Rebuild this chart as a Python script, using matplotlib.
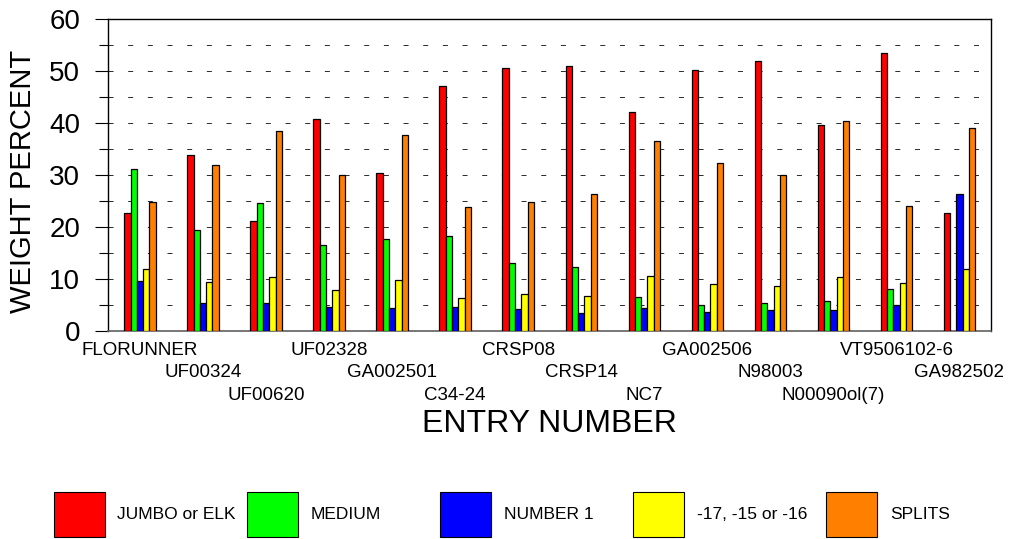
import numpy as np
import matplotlib
matplotlib.use("Agg")
import matplotlib.pyplot as plt
from matplotlib.patches import Patch
from matplotlib.ticker import MultipleLocator

plt.rcParams['font.family'] = ['Liberation Sans', 'DejaVu Sans']

# data
entries = ['FLORUNNER', 'UF00324', 'UF00620', 'UF02328', 'GA002501', 'C34-24',
           'CRSP08', 'CRSP14', 'NC7', 'GA002506', 'N98003', 'N00090ol(7)',
           'VT9506102-6', 'GA982502']
jumbo = [22.8, 33.8, 21.2, 40.9, 30.4, 47.1, 50.6, 51.0, 42.1, 50.2, 51.9, 39.7, 53.6, 22.7]
medium = [31.1, 19.5, 24.7, 16.6, 17.7, 18.2, 13.1, 12.3, 6.6, 5.0, 5.4, 5.7, 8.0, np.nan]
number1 = [9.6, 5.3, 5.3, 4.6, 4.4, 4.7, 4.3, 3.5, 4.4, 3.7, 4.0, 4.0, 5.1, 26.4]
small = [12.0, 9.5, 10.3, 7.8, 9.8, 6.3, 7.1, 6.8, 10.6, 9.0, 8.7, 10.3, 9.3, 12.0]
splits = [24.8, 31.9, 38.5, 30.1, 37.8, 23.8, 24.9, 26.4, 36.6, 32.3, 30.1, 40.5, 24.0, 39.1]

series = [jumbo, medium, number1, small, splits]
series_names = ['JUMBO or ELK', 'MEDIUM', 'NUMBER 1', '-17, -15 or -16', 'SPLITS']
colors = ['#ff0000', '#00ff00', '#0000ff', '#ffff00', '#ff8000']

fig = plt.figure(figsize=(10.1, 5.39), dpi=100)
ax = fig.add_axes([0.1074, 0.3859, 0.8738, 0.5783])

x = np.arange(len(entries)) + 0.5
bw = 0.1
for k, (vals, col) in enumerate(zip(series, colors)):
    ax.bar(x + (k - 2) * bw, vals, width=bw, color=col, edgecolor='black',
           linewidth=0.9, zorder=3)

ax.set_xlim(0, len(entries))
ax.set_ylim(0, 60)
ax.yaxis.set_major_locator(MultipleLocator(10))
ax.yaxis.set_minor_locator(MultipleLocator(5))
ax.tick_params(axis='y', which='major', direction='out', length=9.4, width=0.8,
               labelsize=20, pad=11)
ax.tick_params(axis='y', which='minor', direction='out', length=6.5, width=0.8)
ax.tick_params(axis='x', which='both', bottom=False, labelbottom=False)

# dashed horizontal grid every 5
for lvl in np.arange(5, 60, 5):
    ax.axhline(lvl, color='#303030', linewidth=0.72,
               linestyle=(0, (5, 14.67)), zorder=1)

for side in ['left', 'top', 'right']:
    ax.spines[side].set_linewidth(1.0)
ax.spines['bottom'].set_color('#606060')
ax.spines['bottom'].set_linewidth(1.2)

# staggered entry labels in three rows
for i, name in enumerate(entries):
    row = i % 3
    ax.annotate(name, xy=(x[i], 0), xycoords=('data', 'axes fraction'),
                xytext=(0, -(19.5 + 22.5 * row) * 0.72), textcoords='offset points',
                ha='center', va='center', fontsize=13.5)

ax.set_xlabel('ENTRY NUMBER', fontsize=23)
ax.xaxis.set_label_coords(0.5, -0.298)
ax.xaxis.label.set_va('center')
ax.set_ylabel('WEIGHT PERCENT', fontsize=21)
ax.yaxis.set_label_coords(-0.0969, 0.48)
ax.yaxis.label.set_va('center')

# legend: five evenly spaced entries along the bottom
for k, (name, col) in enumerate(zip(series_names, colors)):
    fig.legend(handles=[Patch(facecolor=col, edgecolor='black', linewidth=0.8)],
               labels=[name], loc='lower left',
               bbox_to_anchor=((53.5 + k * 193.2) / 1010, 2.3 / 539),
               frameon=False, fontsize=12.5, borderpad=0, borderaxespad=0,
               handlelength=2.94, handleheight=3.61, handletextpad=0.73)

fig.savefig('out.png', dpi=100)
